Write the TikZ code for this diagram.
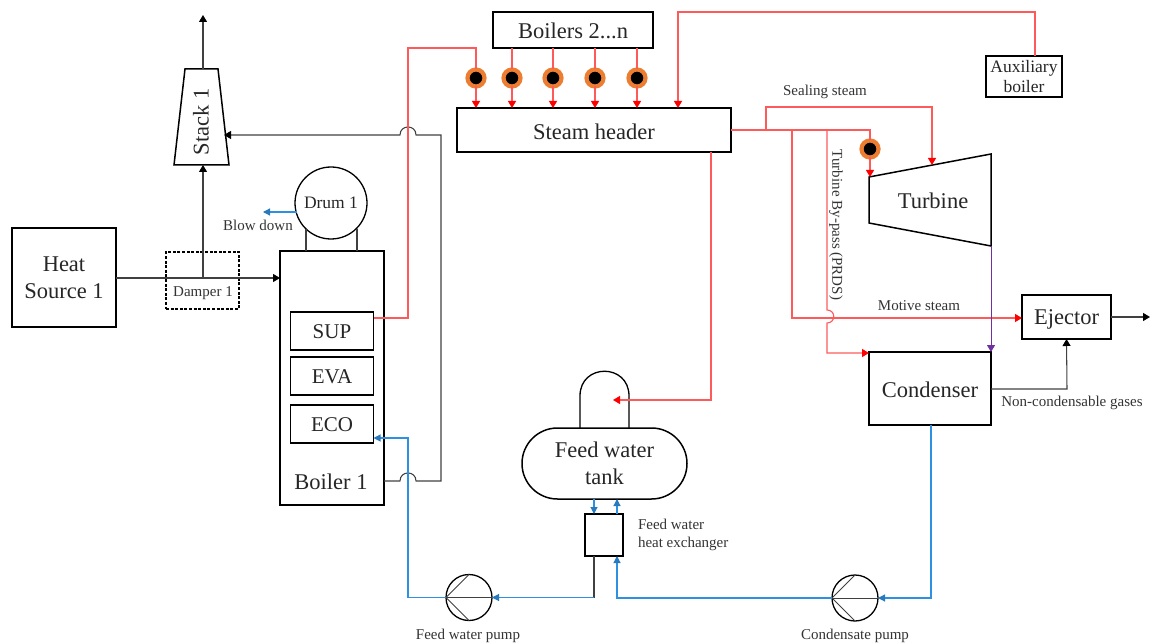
\documentclass[tikz,border=0pt]{standalone}
\usepackage{fontspec}
\setmainfont{Liberation Serif}
\usetikzlibrary{arrows.meta,shapes.misc,calc}
\definecolor{steamred}{HTML}{FF5A5A}
\definecolor{tipred}{HTML}{FF0000}
\definecolor{waterblue}{HTML}{2E90E0}
\definecolor{ringorange}{HTML}{ED7D31}
\definecolor{exhaust}{HTML}{7030A0}
\definecolor{darkline}{HTML}{404040}
\newcommand{\fsA}{\fontsize{22.5}{27}\selectfont}
\newcommand{\fsB}{\fontsize{21}{25}\selectfont}
\newcommand{\fsC}{\fontsize{17.5}{20}\selectfont}
\newcommand{\fsD}{\fontsize{15}{18}\selectfont}
\newcommand{\lowered}[2]{\raisebox{-#1pt}[\height][\depth]{#2}}
\tikzset{
  box/.style={draw=black,line width=1.5pt,inner sep=0pt,outer sep=0pt,align=center,font=\fsA,text=black!85},
  subbox/.style={box,minimum width=83pt,minimum height=38pt,font=\fsB},
  lab/.style={inner sep=0pt,outer sep=0pt,font=\fsD,text=black!80,align=center},
  biglab/.style={inner sep=0pt,outer sep=0pt,font=\fsA,text=black!85,align=center},
  outline/.style={draw=black,line width=1.5pt,line join=miter},
  valve/.style={circle,draw=ringorange,fill=black,line width=4.2pt,minimum size=17pt,inner sep=0pt,outer sep=0pt},
  pump/.style={circle,draw=black,line width=1.3pt,minimum size=46pt,inner sep=0pt,outer sep=0pt},
  gasline/.style={draw=darkline,line width=1.05pt},
  gasarrow/.style={gasline,-{Triangle[length=7pt,width=8pt,color=black]}},
  steam/.style={draw=steamred,line width=1.1pt},
  steamarrow/.style={steam,-{Triangle[length=7pt,width=8pt,color=tipred]}},
  water/.style={draw=waterblue,line width=1.1pt},
  waterarrow/.style={water,-{Triangle[length=7pt,width=7pt,color=waterblue!85!black]}},
  exhaustarrow/.style={draw=exhaust,line width=1pt,-{Triangle[length=7pt,width=8pt,color=exhaust]}}
}
\begin{document}
\begin{tikzpicture}[x=1pt,y=-1pt]
\useasboundingbox (0,0) rectangle (1151,644);
% main equipment
\node[box,minimum width=104pt,minimum height=99pt] (heat) at (64,277.5) {Heat\\Source 1};
\node[box,draw=black,dash pattern=on 3pt off 1.6pt,line width=1.2pt,minimum width=73pt,minimum height=57pt] (damper) at (202.5,280.5) {};
\node[lab] (damperlab) at (203,293.5) {Damper 1};
\node[box,minimum width=104pt,minimum height=254pt] (boiler) at (332,378) {};
\node[biglab] (boilerlab) at (331,481.5) {Boiler 1};
\node[subbox] (sup) at (332,331) {\lowered{1}{SUP}};
\node[subbox] (eva) at (332,376) {\lowered{1}{EVA}};
\node[subbox] (eco) at (332,424) {\lowered{1}{ECO}};
\node[circle,draw=black,line width=1.3pt,minimum size=72pt,inner sep=0pt,outer sep=0pt,font=\fsC,text=black!85] (drum) at (331,203) {Drum 1};
\node[lab] (blowlab) at (258,225) {Blow down};
\coordinate (blowend) at (263,212);
% stack
\coordinate (st1) at (185,69);
\coordinate (st2) at (218,69);
\coordinate (st3) at (229,165);
\coordinate (st4) at (174,165);
\coordinate (stin) at (224,135);
\coordinate (sttop) at (203,15);
\node[biglab,rotate=90] (stack) at (201,122) {Stack 1};
% top row
\node[box,minimum width=160pt,minimum height=36pt] (boilers) at (573,30) {\lowered{1}{Boilers 2...n}};
\node[box,minimum width=274pt,minimum height=44pt] (header) at (594,130) {\lowered{1.5}{Steam header}};
\node[box,minimum width=76pt,minimum height=41pt,font=\fsC] (aux) at (1024,76.5) {Auxiliary\\boiler};
\node[valve] (v1) at (476,78) {};
\node[valve] (v2) at (512,78) {};
\node[valve] (v3) at (553,78) {};
\node[valve] (v4) at (595,78) {};
\node[valve] (v5) at (637,78) {};
\node[valve] (v6) at (870,149) {};
% turbine, condenser, ejector
\coordinate (t1) at (869,177);
\coordinate (t2) at (991,154);
\coordinate (t3) at (991,246);
\coordinate (t4) at (869,223);
\coordinate (tseal) at (932,165);
\node[biglab] (turbine) at (933,201) {Turbine};
\node[box,minimum width=122pt,minimum height=73pt] (cond) at (930,388.5) {\lowered{1.5}{Condenser}};
\node[box,minimum width=89pt,minimum height=44pt] (ejector) at (1066.5,317) {\lowered{2.5}{Ejector}};
\coordinate (ejout) at (1150,317);
\node[lab] (seallab) at (825,92) {Sealing steam};
\node[lab,rotate=-90] (bypasslab) at (836,225) {Turbine By-pass (PRDS)};
\node[lab] (motivelab) at (919,305.5) {Motive steam};
\node[lab] (ncglab) at (1072,403) {Non-condensable gases};
% feed water
\node[box,rounded rectangle,minimum width=165pt,minimum height=71pt] (tank) at (604.5,463.5) {\lowered{2}{\begin{tabular}{@{}c@{}}Feed water\\tank\end{tabular}}};
\coordinate (domeL) at (580,428);
\coordinate (domeR) at (629,428);
\coordinate (dometip) at (613,400);
\node[box,line width=1.3pt,minimum width=38pt,minimum height=42pt] (hx) at (604,535) {};
\node[lab,align=left,anchor=west] (hxlab) at (638,535) {Feed water\\heat exchanger};
\node[pump] (fwp) at (469,597.5) {};
\node[pump] (cp) at (855,598) {};
\node[lab] (fwplab) at (468,636) {Feed water pump};
\node[lab] (cplab) at (855,636) {Condensate pump};
% shapes drawn as outlines
\draw[outline] (st1) -- (st2) -- (st3) -- (st4) -- cycle;
\draw[outline] (t1) -- (t2) -- (t3) -- (t4) -- cycle;
\draw[outline,line width=1.3pt] (domeL) -- (580,396) .. controls (580,363) and (629,363) .. (629,396) -- (domeR);
\foreach \p in {fwp,cp}{
  \draw[gasline,line width=.9pt] (\p.west) -- (\p.east);
  \draw[gasline,line width=.9pt] (\p.west) -- (\p.north);
  \draw[gasline,line width=.9pt] (\p.west) -- (\p.south);
}
% flue gas and black connectors
\draw[gasarrow] (heat.east |- 0,278) -- (boiler.west |- 0,278);
\draw[gasarrow] (203,278) -- (203,165);
\draw[gasarrow] (203,69) -- (sttop);
\draw[gasarrow] (boiler.east |- 0,481) -- (400,481) .. controls (400,470.3) and (416,470.3) .. (416,481) -- (441,481) -- (441,135) -- (416,135) .. controls (416,124.3) and (400,124.3) .. (400,135) -- (stin);
\draw[gasarrow] (ejector.east) -- (ejout);
\draw[gasarrow] (cond.east |- 0,389) -- (1067,389) -- (ejector.south);
\draw[gasline] (306,229) -- (306,251);
\draw[gasline] (357,229) -- (357,251);
\draw[gasline] (hx.south -| 594,0) -- (594,597.5);
% steam
\draw[steam] (sup.east |- 0,318) -- (408,318) -- (408,48) -- (476,48) -- (v1.north);
\foreach \v in {v2,v3,v4,v5}{ \draw[steam] (\v.north |- boilers.south) -- (\v.north); }
\foreach \v in {v1,v2,v3,v4,v5}{ \draw[steamarrow] (\v.south) -- (\v.south |- header.north); }
\draw[steamarrow] (aux.north -| 1035,0) -- (1035,12) -- (678,12) -- (678,108);
\draw[steam] (header.east) -- (870,130) -- (v6.north);
\draw[steamarrow] (v6.south) -- (v6.south |- t1);
\draw[steamarrow] (766,130) -- (766,107) -- (932,107) -- (tseal);
\draw[steamarrow] (792,130) -- (792,318) -- (ejector.west |- 0,318);
\draw[steamarrow] (827,130) -- (827,310) .. controls (836,310) and (836,323) .. (827,323) -- (827,353) -- (cond.west |- 0,353);
\draw[steamarrow] (711,152) -- (711,400) -- (dometip);
% exhaust
\draw[exhaustarrow] (t3) -- (t3 |- cond.north);
% water
\draw[waterarrow] (297,212) -- (blowend);
\draw[waterarrow] (594,499) -- (594,514);
\draw[waterarrow] (617,514) -- (617,499);
\draw[waterarrow] (594,597.5) -- (fwp.east);
\draw[waterarrow] (fwp.west) -- (408,597.5) -- (408,438) -- (eco.east |- 0,438);
\draw[waterarrow] (931,425) -- (931,598) -- (cp.east);
\draw[waterarrow] (cp.west) -- (617,598) -- (617,556);
\end{tikzpicture}
\end{document}
